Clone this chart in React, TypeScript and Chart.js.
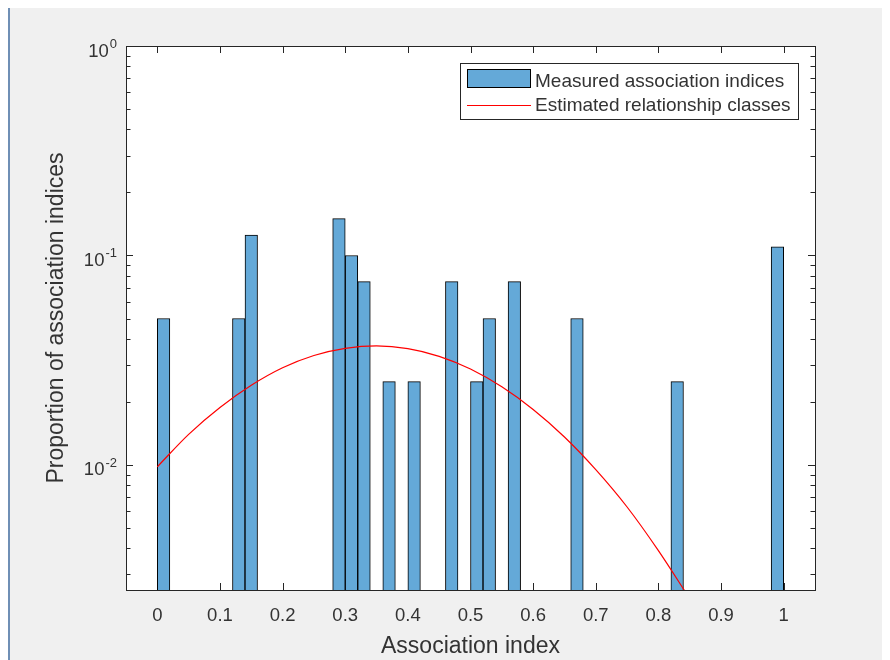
import React, { useEffect, useRef } from 'react';
import { Chart, registerables } from 'chart.js';

Chart.register(...registerables);

// ---- data ----
const BIN_WIDTH = 0.02;
const binLeftEdges = [0, 0.12, 0.14, 0.28, 0.3, 0.32, 0.36, 0.4, 0.46, 0.5, 0.52, 0.56, 0.66, 0.82, 0.98];
const proportions = [0.05, 0.05, 0.125, 0.15, 0.1, 0.075, 0.025, 0.025, 0.075, 0.025, 0.05, 0.075, 0.05, 0.025, 0.11];

const curveX = [0, 0.05, 0.1, 0.15, 0.2, 0.25, 0.3, 0.35, 0.4, 0.45, 0.5, 0.55, 0.6, 0.65, 0.7, 0.75, 0.8, 0.85];
const curveY = [0.0098, 0.014, 0.0188, 0.024, 0.0291, 0.0333, 0.036, 0.037, 0.0359, 0.033, 0.0287, 0.0236, 0.0184, 0.0136, 0.0095, 0.0063, 0.0039, 0.0023];

const xTickValues = [0, 0.1, 0.2, 0.3, 0.4, 0.5, 0.6, 0.7, 0.8, 0.9, 1];
const xTickLabels = ['0', '0.1', '0.2', '0.3', '0.4', '0.5', '0.6', '0.7', '0.8', '0.9', '1'];
const yTickValues = [1, 0.1, 0.01];
const yTickExponents = ['0', '-1', '-2'];

const X_MIN = -0.05;
const X_MAX = 1.05;
const Y_MIN = 0.00253;
const Y_MAX = 1;

const barLabel = 'Measured association indices';
const lineLabel = 'Estimated relationship classes';
const xAxisTitle = 'Association index';
const yAxisTitle = 'Proportion of association indices';

// ---- styles ----
const FONT = '"Liberation Sans", Arial, Helvetica, sans-serif';
const AXIS_COLOR = '#262626';
const TEXT_COLOR = '#333333';
const BAR_FILL = 'rgb(100,169,216)';
const BAR_EDGE = '#000000';
const LINE_COLOR = '#ff0000';

const matlabAxes = {
  id: 'matlabAxes',
  beforeDatasetsDraw(chart: any) {
    const { ctx, chartArea: a, scales } = chart;
    const xs = scales.x;
    const ys = scales.y;
    ctx.save();
    ctx.fillStyle = '#ffffff';
    ctx.fillRect(a.left, a.top, a.right - a.left, a.bottom - a.top);
    ctx.strokeStyle = AXIS_COLOR;
    ctx.lineWidth = 1;
    ctx.beginPath();
    for (const v of xTickValues) {
      const px = Math.round(xs.getPixelForValue(v)) + 0.5;
      ctx.moveTo(px, a.bottom);
      ctx.lineTo(px, a.bottom - 7);
      ctx.moveTo(px, a.top);
      ctx.lineTo(px, a.top + 7);
    }
    for (let e = -3; e <= 0; e++) {
      for (let m = 1; m <= 9; m++) {
        const v = m * Math.pow(10, e);
        if (v < Y_MIN || v > Y_MAX * 1.0001) continue;
        const len = m === 1 ? 7 : 4.5;
        const py = Math.round(ys.getPixelForValue(v)) + 0.5;
        ctx.moveTo(a.left, py);
        ctx.lineTo(a.left + len, py);
        ctx.moveTo(a.right, py);
        ctx.lineTo(a.right - len, py);
      }
    }
    ctx.stroke();
    ctx.restore();
  },
  afterDatasetsDraw(chart: any) {
    const { ctx, chartArea: a, scales } = chart;
    const xs = scales.x;
    const ys = scales.y;
    ctx.save();
    // frame
    ctx.strokeStyle = AXIS_COLOR;
    ctx.lineWidth = 1;
    ctx.strokeRect(Math.round(a.left) + 0.5, Math.round(a.top) + 0.5, Math.round(a.right - a.left), Math.round(a.bottom - a.top));

    // x tick labels
    ctx.fillStyle = TEXT_COLOR;
    ctx.font = `18.5px ${FONT}`;
    ctx.textAlign = 'center';
    ctx.textBaseline = 'alphabetic';
    xTickValues.forEach((v, i) => {
      ctx.fillText(xTickLabels[i], xs.getPixelForValue(v), a.bottom + 31);
    });

    // y tick labels 10^k
    yTickValues.forEach((v, i) => {
      const py = ys.getPixelForValue(v);
      const supRight = a.left - 9;
      ctx.textAlign = 'right';
      ctx.font = `13px ${FONT}`;
      const supW = ctx.measureText(yTickExponents[i]).width;
      ctx.fillText(yTickExponents[i], supRight, py + 2);
      ctx.font = `18.5px ${FONT}`;
      ctx.fillText('10', supRight - supW - 1, py + 10.5);
    });

    // axis titles
    ctx.font = `23px ${FONT}`;
    ctx.textAlign = 'center';
    ctx.fillText(xAxisTitle, (a.left + a.right) / 2, a.bottom + 63);
    ctx.save();
    ctx.translate(a.left - 63, (a.top + a.bottom) / 2);
    ctx.rotate(-Math.PI / 2);
    ctx.fillText(yAxisTitle, 0, 0);
    ctx.restore();

    // legend
    const lw = 338;
    const lh = 56;
    const lx = Math.round(a.right - 17 - lw);
    const ly = Math.round(a.top + 17);
    ctx.fillStyle = '#ffffff';
    ctx.fillRect(lx, ly, lw, lh);
    ctx.strokeStyle = AXIS_COLOR;
    ctx.strokeRect(lx + 0.5, ly + 0.5, lw, lh);
    ctx.fillStyle = BAR_FILL;
    ctx.fillRect(lx + 7, ly + 6, 64, 19);
    ctx.strokeStyle = BAR_EDGE;
    ctx.strokeRect(lx + 7.5, ly + 6.5, 63, 18);
    ctx.strokeStyle = LINE_COLOR;
    ctx.beginPath();
    ctx.moveTo(lx + 7, ly + 42.5);
    ctx.lineTo(lx + 71, ly + 42.5);
    ctx.stroke();
    ctx.fillStyle = TEXT_COLOR;
    ctx.font = `19px ${FONT}`;
    ctx.textAlign = 'left';
    ctx.fillText(barLabel, lx + 75, ly + 23.5);
    ctx.fillText(lineLabel, lx + 75, ly + 47.5);
    ctx.restore();
  },
};

export default function App() {
  const ref = useRef<HTMLCanvasElement | null>(null);

  useEffect(() => {
    if (!ref.current) return;
    const barData = binLeftEdges.map((e, i) => ({ x: e + BIN_WIDTH / 2, y: proportions[i] }));
    const lineData = curveX.map((x, i) => ({ x, y: curveY[i] }));
    const chart = new Chart(ref.current, {
      type: 'bar',
      data: {
        datasets: [
          {
            type: 'line',
            label: lineLabel,
            data: lineData,
            borderColor: LINE_COLOR,
            borderWidth: 1.2,
            pointRadius: 0,
            cubicInterpolationMode: 'monotone',
            fill: false,
            order: 0,
          } as any,
          {
            type: 'bar',
            label: barLabel,
            data: barData,
            backgroundColor: BAR_FILL,
            borderColor: BAR_EDGE,
            borderWidth: 1,
            barPercentage: 1,
            categoryPercentage: 1,
            order: 1,
          } as any,
        ],
      },
      options: {
        animation: false,
        responsive: false,
        devicePixelRatio: 1,
        layout: { padding: { left: 116, top: 40, right: 75, bottom: 70 } },
        plugins: { legend: { display: false }, tooltip: { enabled: false } },
        scales: {
          x: { type: 'linear', min: X_MIN, max: X_MAX, offset: false, display: false },
          y: { type: 'logarithmic', min: Y_MIN, max: Y_MAX, display: false },
        },
      } as any,
      plugins: [matlabAxes],
    });
    return () => chart.destroy();
  }, []);

  return (
    <div
      style={{
        position: 'relative',
        top: -2,
        width: 880,
        height: 654,
        background: '#f0f0f0',
        borderLeft: '2px solid #6f8fb5',
      }}
    >
      <canvas ref={ref} width={880} height={654} style={{ display: 'block', width: 880, height: 654 }} />
    </div>
  );
}
